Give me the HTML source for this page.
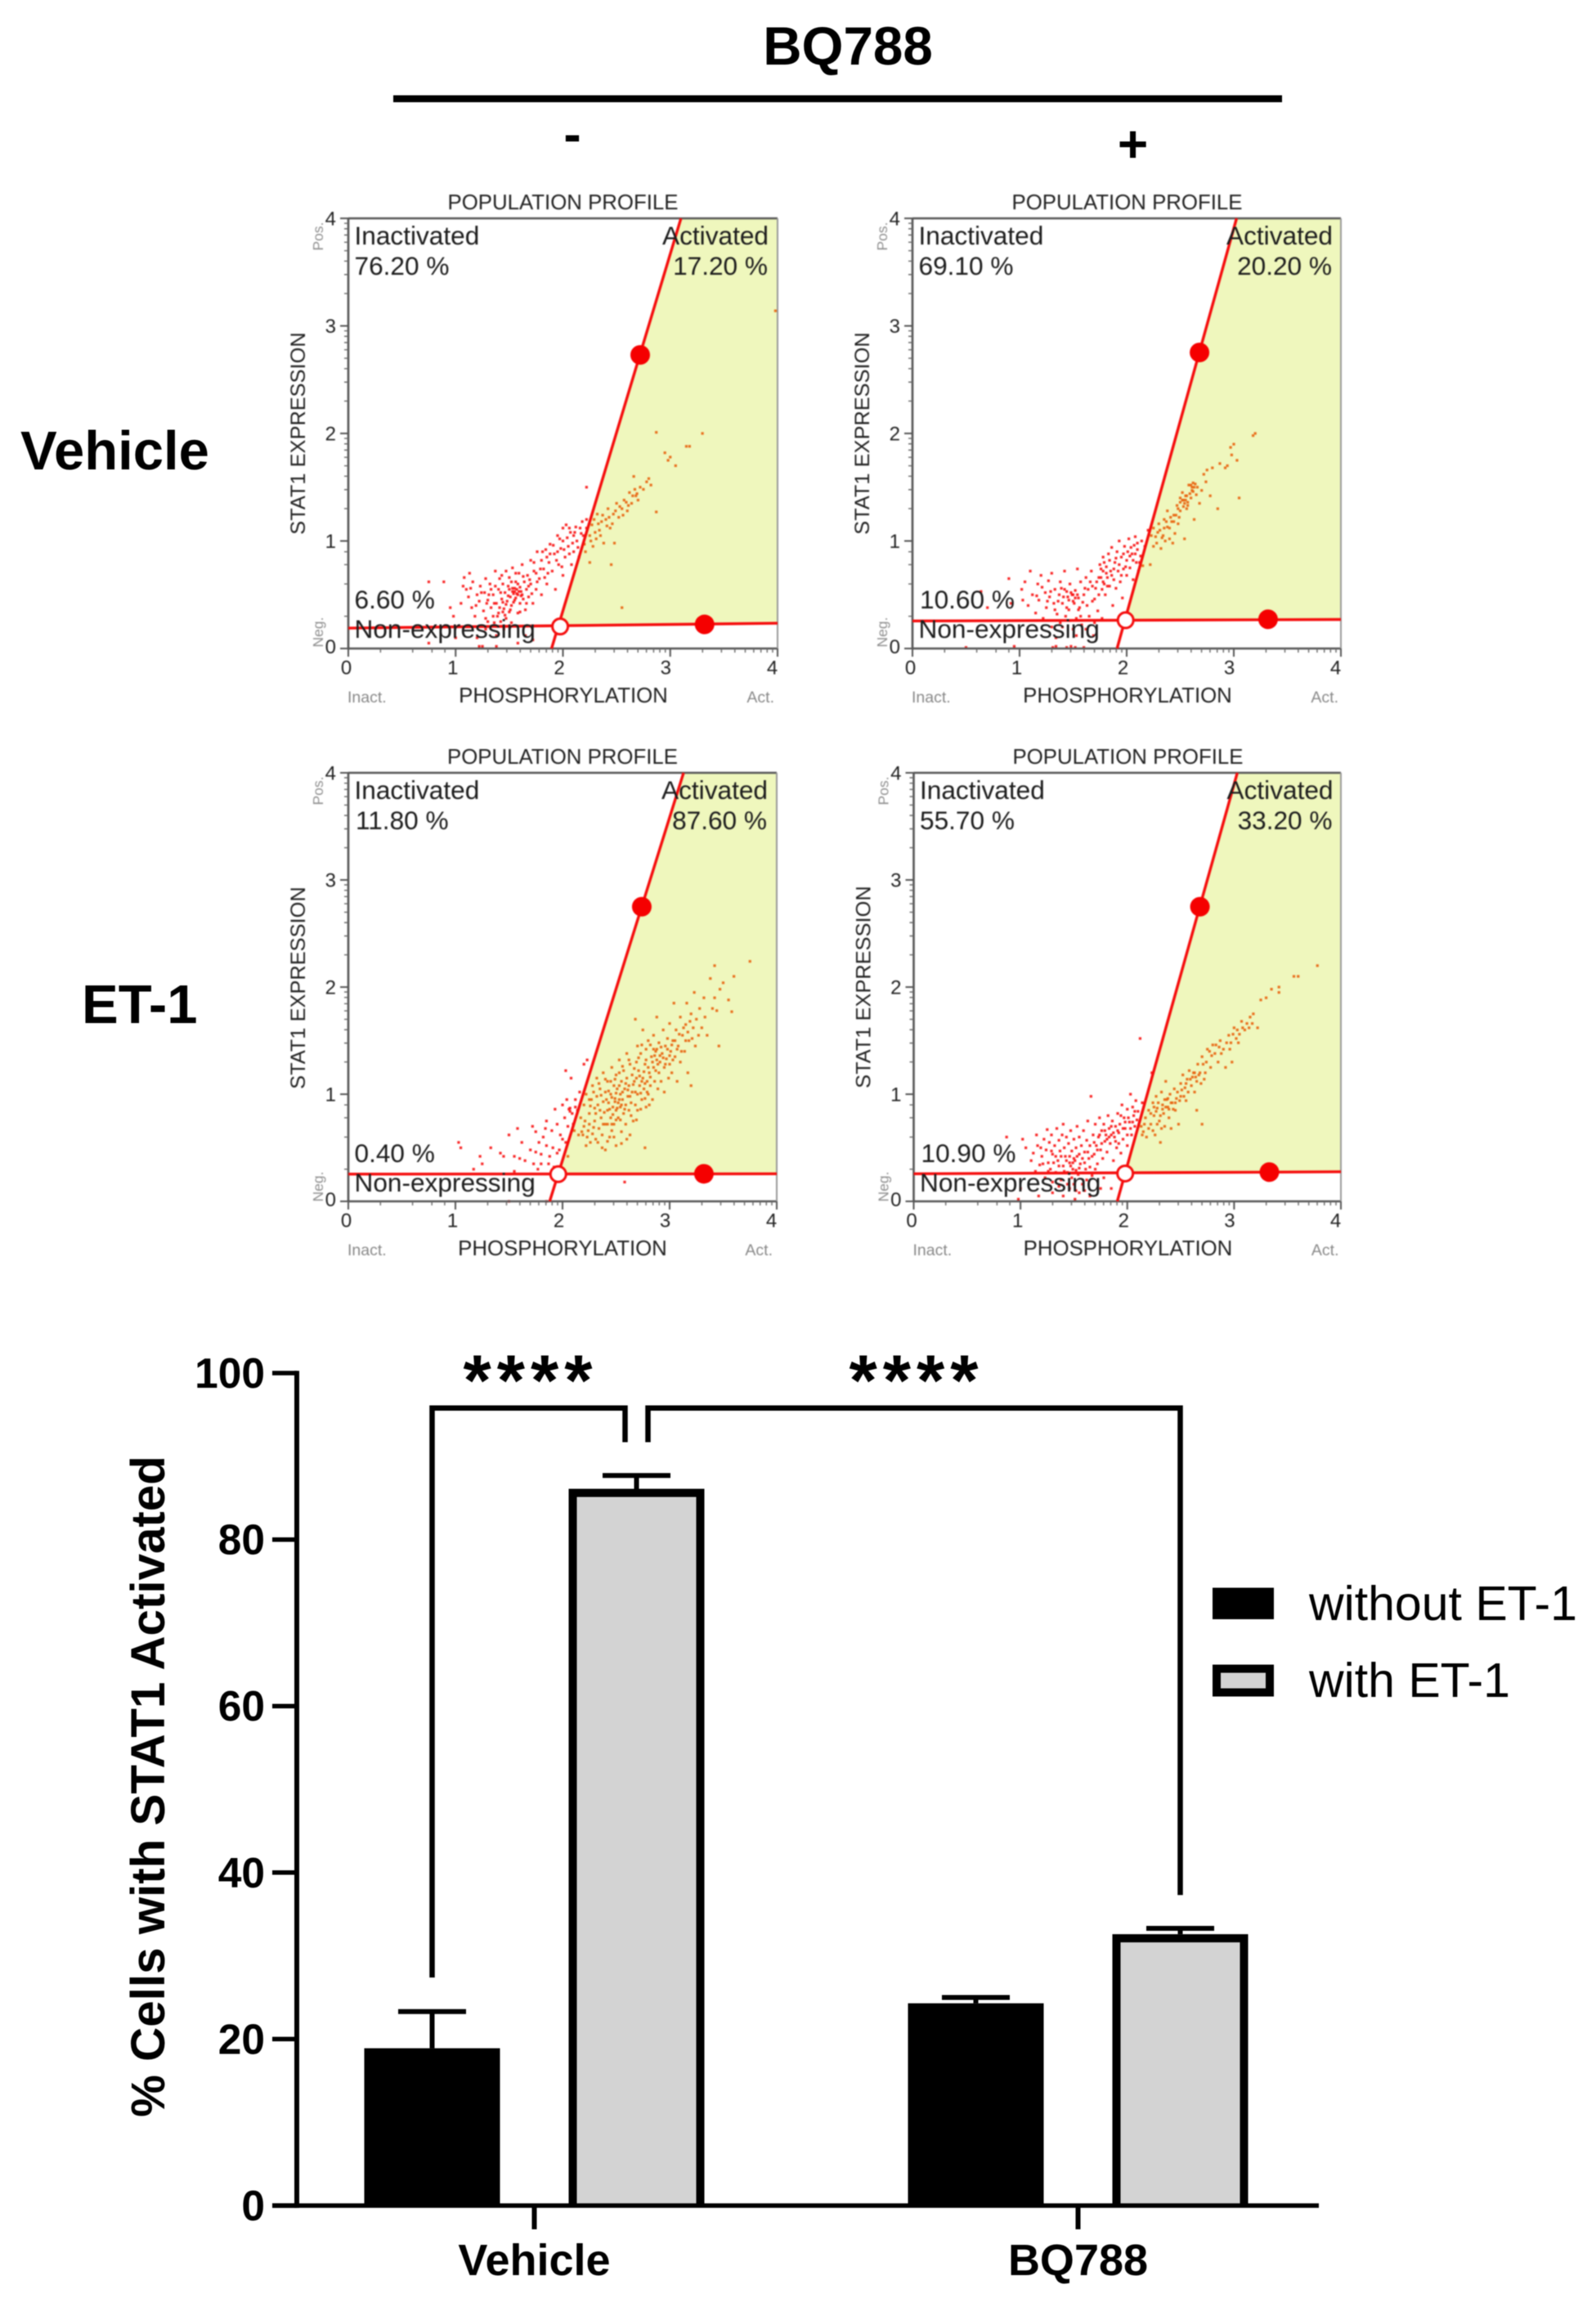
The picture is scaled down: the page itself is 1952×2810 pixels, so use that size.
<!DOCTYPE html>
<html lang="en">
<head>
<meta charset="utf-8">
<title>STAT1 population profiles and activation bar chart</title>
<style>
html,body{margin:0;padding:0;background:#fff;}
body{width:1952px;height:2810px;overflow:hidden;}
svg{display:block;font-family:"Liberation Sans",Arial,sans-serif;}
.soft{filter:blur(0.7px);}
.bar-soft{filter:blur(0.5px);}
.pt{font-size:25.8px;fill:#222;}
.yt{font-size:25.4px;fill:#222;}
.lab{font-size:31.6px;fill:#1c1c1c;}
.gr{font-size:19.5px;fill:#888;}
.gv{font-size:17.5px;fill:#909090;}
.tick{font-size:24px;fill:#222;}
.b{font-weight:bold;fill:#000;}
</style>
</head>
<body>
<svg id="fig" xmlns="http://www.w3.org/2000/svg" width="1952" height="2810" viewBox="0 0 1952 2810">
<rect width="1952" height="2810" fill="#fff"/>

<g class="bar-soft">
<text class="b" x="1037" y="79" font-size="65.5" text-anchor="middle">BQ788</text>
<rect x="481" y="116.5" width="1087" height="8.5" fill="#000"/>
<text class="b" x="700" y="186" font-size="64" text-anchor="middle">-</text>
<text class="b" x="1385.5" y="198" font-size="64" text-anchor="middle">+</text>
<text class="b" x="25" y="574" font-size="67">Vehicle</text>
<text class="b" x="100" y="1251" font-size="67">ET-1</text>
</g>

<g class="soft" transform="translate(426,267)">
<g id="marks0"></g>
<text class="pt" x="262.5" y="-11" text-anchor="middle">POPULATION PROFILE</text>
<text class="pt" x="263" y="592" text-anchor="middle">PHOSPHORYLATION</text>
<text class="yt" transform="translate(-53,263) rotate(-90)" text-anchor="middle">STAT1 EXPRESSION</text>
<text class="gr" x="-1" y="592">Inact.</text>
<text class="gr" x="521" y="592" text-anchor="end">Act.</text>
<text class="gv" transform="translate(-31,22) rotate(-90)" text-anchor="middle">Pos.</text>
<text class="gv" transform="translate(-31,506) rotate(-90)" text-anchor="middle">Neg.</text>
<text class="lab" x="7.5" y="32">Inactivated</text>
<text class="lab" x="7.5" y="69">76.20 %</text>
<text class="lab" x="514" y="32" text-anchor="end">Activated</text>
<text class="lab" x="513" y="69" text-anchor="end">17.20 %</text>
<text class="lab" x="7.5" y="477">6.60 %</text>
<text class="lab" x="7.5" y="513">Non-expressing</text>
</g>

<g class="soft" transform="translate(1116,267)">
<g id="marks1"></g>
<text class="pt" x="262.5" y="-11" text-anchor="middle">POPULATION PROFILE</text>
<text class="pt" x="263" y="592" text-anchor="middle">PHOSPHORYLATION</text>
<text class="yt" transform="translate(-53,263) rotate(-90)" text-anchor="middle">STAT1 EXPRESSION</text>
<text class="gr" x="-1" y="592">Inact.</text>
<text class="gr" x="521" y="592" text-anchor="end">Act.</text>
<text class="gv" transform="translate(-31,22) rotate(-90)" text-anchor="middle">Pos.</text>
<text class="gv" transform="translate(-31,506) rotate(-90)" text-anchor="middle">Neg.</text>
<text class="lab" x="7.5" y="32">Inactivated</text>
<text class="lab" x="7.5" y="69">69.10 %</text>
<text class="lab" x="514" y="32" text-anchor="end">Activated</text>
<text class="lab" x="513" y="69" text-anchor="end">20.20 %</text>
<text class="lab" x="9" y="477">10.60 %</text>
<text class="lab" x="7.5" y="513">Non-expressing</text>
</g>

<g class="soft" transform="translate(426,945)">
<g id="marks2"></g>
<text class="pt" x="262" y="-11" text-anchor="middle">POPULATION PROFILE</text>
<text class="pt" x="262" y="590" text-anchor="middle">PHOSPHORYLATION</text>
<text class="yt" transform="translate(-53,263) rotate(-90)" text-anchor="middle">STAT1 EXPRESSION</text>
<text class="gr" x="-1" y="590">Inact.</text>
<text class="gr" x="519" y="590" text-anchor="end">Act.</text>
<text class="gv" transform="translate(-31,22) rotate(-90)" text-anchor="middle">Pos.</text>
<text class="gv" transform="translate(-31,506) rotate(-90)" text-anchor="middle">Neg.</text>
<text class="lab" x="7.5" y="32">Inactivated</text>
<text class="lab" x="9" y="69">11.80 %</text>
<text class="lab" x="513" y="32" text-anchor="end">Activated</text>
<text class="lab" x="512" y="69" text-anchor="end">87.60 %</text>
<text class="lab" x="7.5" y="476">0.40 %</text>
<text class="lab" x="7.5" y="512">Non-expressing</text>
</g>

<g class="soft" transform="translate(1117.5,945)">
<g id="marks3"></g>
<text class="pt" x="262" y="-11" text-anchor="middle">POPULATION PROFILE</text>
<text class="pt" x="262" y="590" text-anchor="middle">PHOSPHORYLATION</text>
<text class="yt" transform="translate(-53,262) rotate(-90)" text-anchor="middle">STAT1 EXPRESSION</text>
<text class="gr" x="-1" y="590">Inact.</text>
<text class="gr" x="520" y="590" text-anchor="end">Act.</text>
<text class="gv" transform="translate(-31,22) rotate(-90)" text-anchor="middle">Pos.</text>
<text class="gv" transform="translate(-31,506) rotate(-90)" text-anchor="middle">Neg.</text>
<text class="lab" x="7.5" y="32">Inactivated</text>
<text class="lab" x="7.5" y="69">55.70 %</text>
<text class="lab" x="513" y="32" text-anchor="end">Activated</text>
<text class="lab" x="512" y="69" text-anchor="end">33.20 %</text>
<text class="lab" x="9" y="476">10.90 %</text>
<text class="lab" x="7.5" y="512">Non-expressing</text>
</g>

<g class="bar-soft">
<g id="barMarks"></g>
<text class="b" transform="translate(201,2184.5) rotate(-90)" font-size="58.3" text-anchor="middle">% Cells with STAT1 Activated</text>
<text class="b" x="649" y="1718" font-size="88" text-anchor="middle" letter-spacing="7">****</text>
<text class="b" x="1121" y="1718" font-size="88" text-anchor="middle" letter-spacing="7">****</text>
<rect x="1483" y="1941.5" width="75" height="38.5" fill="#000"/>
<rect x="1488" y="2040.5" width="65" height="29" fill="#d3d3d3" stroke="#000" stroke-width="10"/>
<text x="1601" y="1981" font-size="59" fill="#000">without ET-1</text>
<text x="1601" y="2075" font-size="59" fill="#000">with ET-1</text>
</g>
</svg>

<script>
// ---------- Population profile data (data units on the 0-4 axes) ----------
const axisTicks = [0, 1, 2, 3, 4];
const gateBottomX = [1.894, 1.91, 1.88, 1.906];
const gateTopX = [3.10, 3.026, 3.13, 3.03];
const floorLeftY = [0.19, 0.256, 0.254, 0.257];
const floorRightY = [0.235, 0.27, 0.257, 0.276];
const upperHandleX = [2.72, 2.68, 2.74, 2.68];
const upperHandleY = [2.73, 2.753, 2.75, 2.75];
const lowerHandleX = [3.32, 3.32, 3.32, 3.33];
const lowerHandleY = [0.224, 0.272, 0.257, 0.273];
const openHandleX = [1.974, 1.99, 1.96, 1.98];
const openHandleY = [0.205, 0.263, 0.254, 0.26];

const cellsVehicleMinus = [[.75,.62],[.75,.05],[.89,.62],[.95,.38],[.98,.3],[1.0,.1],[1.05,.42],[1.07,.58],[1.08,.66],[1.1,.55],[1.12,.48],[1.13,.7],[1.15,.38],[1.16,.62],[1.18,.3],[1.2,.5],[1.2,.1],[1.22,.44],[1.23,.58],[1.25,.02],[1.26,.35],[1.27,.52],[1.28,.65],[1.3,.25],[1.3,.45],[1.32,.6],[1.33,.38],[1.35,.5],[1.35,.3],[1.37,.72],[1.38,.42],[1.38,.02],[1.4,.55],[1.4,.33],[1.41,.65],[1.42,.25],[1.43,.46],[1.44,.6],[1.45,.37],[1.46,.52],[1.47,.72],[1.47,.28],[1.48,.44],[1.49,.58],[1.5,.34],[1.5,.66],[1.51,.48],[1.52,.4],[1.53,.56],[1.53,.75],[1.54,.51],[1.55,.53],[1.56,.62],[1.56,.47],[1.57,.55],[1.58,.33],[1.58,.5],[1.59,.7],[1.6,.57],[1.6,.42],[1.61,.53],[1.62,.78],[1.63,.46],[1.64,.62],[1.65,.36],[1.66,.55],[1.67,.68],[1.68,.48],[1.7,.82],[1.7,.6],[1.72,.42],[1.73,.72],[1.75,.55],[1.76,.9],[1.78,.65],[1.8,.82],[1.8,.5],[1.82,.74],[1.84,.92],[1.85,.6],[1.87,.8],[1.88,.97],[1.9,.72],[1.92,.88],[1.93,.55],[1.95,1.05],[1.96,.78],[1.98,.93],[2.0,.68],[2.0,1.0],[2.02,.85],[2.03,1.15],[2.05,.95],[2.07,1.08],[2.08,.78],[2.1,.9],[2.12,1.13],[2.13,1.0],[2.15,.85],[2.17,1.07],[2.18,1.18],[2.2,.97],[2.22,1.12],[2.22,1.5],[2.25,1.05],[2.22,1.2],[2.25,.8],[2.27,1.15],[2.28,.95],[2.3,1.08],[2.32,1.25],[2.34,1.1],[2.36,1.18],[2.38,.98],[2.4,1.2],[2.42,1.3],[2.44,1.12],[2.45,.78],[2.47,1.25],[2.48,.98],[2.5,1.35],[2.52,1.22],[2.55,1.3],[2.57,1.38],[2.6,1.28],[2.62,1.45],[2.64,1.35],[2.66,1.6],[2.68,1.42],[2.7,1.38],[2.72,1.5],[2.75,1.48],[2.78,1.55],[2.8,1.58],[2.82,1.52],[2.87,1.27],[2.87,2.01],[2.95,1.82],[2.98,1.75],[3.0,1.78],[3.05,1.7],[3.15,1.88],[3.18,1.88],[3.3,2.0],[2.55,.38],[3.98,3.14],[2.0,1.12],[1.95,.9],[1.85,.85],[2.1,1.05],[1.75,.7],[1.68,.58],[1.52,.62],[1.44,.34],[1.36,.42],[1.28,.28],[1.5,.55],[1.58,.6],[1.62,.5],[1.55,.45],[1.42,.52],[1.33,.55]];
const cellsVehicleMinusDense = [[1.57,.51],[1.53,.53],[1.59,.53],[1.55,.56],[1.61,.49],[1.49,.49],[1.54,.43],[1.47,.41],[1.44,.43],[1.51,.36],[1.39,.3],[1.36,.24],[1.41,.38],[1.46,.31],[1.29,.42],[1.24,.52],[1.19,.4],[1.14,.56],[1.31,.5],[1.37,.58],[1.43,.68],[1.56,.7],[1.63,.67],[1.69,.64],[1.71,.51],[1.76,.62],[1.79,.74],[1.83,.66],[1.73,.8],[1.81,.9],[1.88,.88],[1.91,.96],[1.94,.82],[1.97,1.02],[2.01,.92],[2.04,1.03],[2.06,.88],[2.09,.98],[2.11,1.08],[2.14,.94],[2.16,1.12],[2.19,1.05],[2.21,.9],[2.06,1.12],[1.99,.76],[1.86,.7],[1.66,.42],[1.6,.34],[1.52,.24],[1.45,.18],[1.38,.12],[1.58,.05],[1.65,.12],[1.72,.08],[1.28,.18],[1.22,.02],[2.29,1.2],[2.31,1.02],[2.33,1.16],[2.37,1.24],[2.41,1.14],[2.43,1.22],[2.46,1.16],[2.49,1.28],[2.53,1.32],[2.56,1.24],[2.59,1.36],[2.61,1.33],[2.65,1.42],[2.67,1.48],[2.69,1.44],[2.35,1.05],[2.26,1.0]];

const cellsVehiclePlus = [[.5,.01],[.64,.53],[.7,.38],[.9,.65],[.92,.42],[.95,.02],[1.02,.55],[1.03,.45],[1.05,.62],[1.08,.4],[1.1,.72],[1.12,.5],[1.15,.33],[1.17,.6],[1.18,.45],[1.2,.68],[1.22,.28],[1.24,.52],[1.25,.38],[1.27,.63],[1.28,.48],[1.3,.7],[1.3,.2],[1.32,.42],[1.33,.55],[1.34,.02],[1.35,.32],[1.37,.5],[1.38,.62],[1.38,.24],[1.4,.42],[1.42,.55],[1.42,.72],[1.43,.3],[1.45,.48],[1.46,.36],[1.47,.6],[1.48,.02],[1.49,.5],[1.5,.44],[1.5,.18],[1.52,.54],[1.53,.28],[1.54,.74],[1.55,.47],[1.56,.38],[1.57,.62],[1.58,.22],[1.6,.5],[1.62,.66],[1.63,.4],[1.64,.55],[1.65,.3],[1.67,.72],[1.68,.58],[1.69,.12],[1.7,.46],[1.72,.62],[1.73,.35],[1.75,.78],[1.76,.66],[1.77,.55],[1.78,.72],[1.78,.85],[1.79,.6],[1.8,.5],[1.81,.76],[1.82,.66],[1.83,.88],[1.84,.58],[1.85,.72],[1.86,.94],[1.87,.4],[1.88,.64],[1.89,.8],[1.9,.56],[1.91,.9],[1.92,.72],[1.93,1.0],[1.94,.62],[1.95,.85],[1.96,.47],[1.97,.74],[1.98,.95],[2.0,.82],[2.0,.68],[2.01,.9],[2.02,1.02],[2.03,.75],[2.05,.88],[2.06,.64],[2.07,.96],[2.08,1.04],[2.09,.8],[2.1,.92],[2.11,.72],[2.13,.86],[2.14,1.0],[2.15,.77],[2.17,.95],[2.2,1.1],[2.22,.78],[2.23,1.05],[2.25,.95],[2.25,1.12],[2.28,.98],[2.3,1.16],[2.32,.93],[2.34,1.05],[2.35,1.2],[2.36,1.0],[2.38,1.13],[2.38,1.28],[2.4,1.02],[2.42,1.18],[2.44,1.24],[2.45,1.07],[2.47,1.33],[2.48,1.16],[2.5,1.28],[2.5,1.4],[2.52,1.45],[2.53,1.38],[2.54,1.02],[2.55,1.42],[2.56,1.3],[2.57,1.36],[2.58,1.52],[2.6,1.4],[2.61,1.5],[2.62,1.46],[2.63,1.2],[2.64,1.53],[2.65,1.43],[2.68,1.35],[2.7,1.47],[2.72,1.62],[2.74,1.55],[2.75,1.66],[2.78,1.42],[2.8,1.68],[2.85,1.3],[2.87,1.72],[2.92,1.68],[2.94,1.7],[2.97,1.87],[2.98,1.8],[3.0,1.9],[3.03,1.75],[3.05,1.4],[3.18,1.98],[3.2,2.0]];
const cellsVehiclePlusDense = [[1.48,.52],[1.5,.5],[1.52,.47],[1.46,.45],[1.54,.5],[1.44,.53],[1.51,.42],[1.41,.48],[1.36,.44],[1.33,.36],[1.29,.53],[1.26,.44],[1.21,.57],[1.16,.49],[1.39,.56],[1.44,.38],[1.55,.36],[1.59,.43],[1.61,.56],[1.66,.62],[1.71,.56],[1.74,.66],[1.76,.74],[1.78,.62],[1.79,.8],[1.81,.7],[1.82,.58],[1.84,.82],[1.86,.68],[1.88,.74],[1.9,.84],[1.93,.78],[1.95,.68],[1.97,.88],[1.99,.76],[2.03,.86],[2.04,.94],[2.06,.82],[2.08,.88],[2.1,.98],[2.12,.8],[1.74,.5],[1.68,.44],[1.57,.3],[1.47,.26],[1.4,.2],[1.34,.1],[1.53,.12],[1.62,.18],[1.7,.24],[1.77,.28],[1.31,.01],[1.44,.01],[1.52,.01],[1.6,.01],[2.5,1.36],[2.52,1.38],[2.54,1.35],[2.55,1.38],[2.56,1.42],[2.53,1.32],[2.57,1.33],[2.59,1.44],[2.61,1.47],[2.63,1.5],[2.62,1.54],[2.6,1.52],[2.66,1.5],[2.48,1.3],[2.46,1.24],[2.44,1.18],[2.4,1.12],[2.37,1.18],[2.35,1.12],[2.33,1.03],[2.31,1.1],[2.29,1.08],[2.27,1.04],[2.41,1.22],[2.49,1.22],[2.43,.98]];

const cellsEt1Minus = [[1.03,.55],[1.05,.5],[1.17,.3],[1.23,.42],[1.25,.35],[1.33,.5],[1.42,.45],[1.45,.42],[1.5,.62],[1.55,.28],[1.55,.42],[1.58,.68],[1.6,.4],[1.62,.55],[1.65,.38],[1.7,.48],[1.73,.35],[1.75,.46],[1.77,.3],[1.78,.55],[1.8,.44],[1.72,.7],[1.75,.65],[1.82,.6],[1.85,.52],[1.85,.75],[1.88,.42],[1.9,.66],[1.92,.32],[1.93,.86],[1.95,.72],[1.97,.48],[2.0,.58],[2.0,.9],[2.02,.78],[2.03,1.22],[2.05,.7],[2.07,.87],[2.08,1.15],[2.1,.72],[2.12,.95],[2.14,.85],[2.16,1.02],[2.2,1.28],[2.23,1.32],[2.58,.18],[1.5,.0],[1.85,.0],
[2.15,.62],[2.17,.78],[2.18,.65],[2.2,.9],[2.2,.7],[2.22,1.0],[2.23,.6],[2.25,.82],[2.25,.72],[2.27,.95],[2.28,.63],[2.28,1.08],[2.3,.87],[2.3,.75],[2.32,1.15],[2.32,.98],[2.33,.55],[2.34,.68],[2.35,.85],[2.35,1.05],[2.36,.78],[2.37,.62],[2.38,.93],[2.38,1.2],[2.4,.72],[2.4,1.02],[2.4,.48],[2.42,.85],[2.42,1.12],[2.43,.92],[2.44,.6],[2.45,1.0],[2.45,.78],[2.46,1.25],[2.47,.88],[2.48,1.08],[2.48,.72],[2.49,.96],[2.5,.85],[2.5,1.18],[2.5,.52],[2.51,1.05],[2.52,.78],[2.52,.92],[2.53,1.32],[2.54,1.0],[2.54,.88],[2.55,1.12],[2.55,.65],[2.56,.95],[2.57,.82],[2.57,1.22],[2.58,1.05],[2.59,.9],[2.6,1.38],[2.6,1.15],[2.6,.58],[2.61,.98],[2.62,.85],[2.62,1.08],[2.63,1.28],[2.64,.92],[2.65,1.18],[2.65,1.02],[2.66,.75],[2.67,1.12],[2.68,.9],[2.68,1.7],[2.69,1.3],[2.7,1.0],[2.7,1.45],[2.7,.85],[2.71,1.22],[2.72,1.08],[2.73,1.38],[2.74,.95],[2.75,1.15],[2.75,1.6],[2.76,1.05],[2.77,1.28],[2.78,1.42],[2.78,.88],[2.79,1.12],[2.8,1.0],[2.8,1.5],[2.81,1.2],[2.82,1.08],[2.83,1.35],[2.84,.95],[2.85,1.25],[2.85,1.55],[2.86,1.12],[2.87,1.4],[2.88,1.32],[2.88,1.72],[2.89,1.05],[2.9,1.2],[2.9,1.48],[2.91,1.3],[2.92,1.12],[2.93,1.38],[2.94,1.6],[2.95,1.25],[2.95,1.02],[2.96,1.45],[2.97,1.33],[2.98,1.52],[2.99,1.15],[3.0,1.28],[3.0,1.66],[3.01,1.4],[3.02,1.2],[3.03,1.5],[3.04,1.85],[3.05,1.35],[3.06,1.6],[3.07,1.12],[3.08,1.45],[3.1,1.72],[3.1,1.3],[3.12,1.55],[3.14,1.4],[3.15,1.65],[3.16,1.85],[3.17,1.2],[3.18,1.5],[3.2,1.75],[3.2,1.08],[3.22,1.62],[3.23,1.95],[3.24,1.45],[3.25,1.7],[3.27,1.55],[3.28,1.8],[3.3,1.62],[3.32,1.9],[3.33,1.72],[3.35,1.55],[3.38,2.08],[3.4,1.8],[3.42,1.9],[3.44,1.78],[3.46,1.45],[3.47,1.98],[3.5,2.04],[3.55,1.88],[3.58,1.77],[3.6,2.1],[3.75,2.24],[3.42,2.2]];
const cellsEt1MinusDense = [[2.51,.87],[2.49,.93],[2.53,.95],[2.47,.81],[2.55,.9],[2.44,.86],[2.58,.86],[2.43,1.03],[2.41,.95],[2.39,.83],[2.36,.99],[2.33,.9],[2.31,.82],[2.29,.69],[2.26,.89],[2.24,.66],[2.21,.75],[2.19,.62],[2.46,.97],[2.5,1.01],[2.53,1.08],[2.56,1.02],[2.59,1.1],[2.61,1.04],[2.63,.98],[2.66,1.09],[2.68,1.02],[2.69,1.15],[2.72,1.17],[2.73,1.01],[2.74,1.12],[2.76,1.21],[2.77,1.1],[2.79,1.02],[2.8,1.25],[2.82,1.16],[2.84,1.3],[2.86,1.36],[2.87,1.22],[2.88,1.42],[2.89,1.28],[2.91,1.36],[2.92,1.44],[2.94,1.34],[2.96,1.28],[2.98,1.42],[3.0,1.36],[3.02,1.46],[3.03,1.32],[3.05,1.5],[3.07,1.42],[3.09,1.56],[3.11,1.4],[3.13,1.62],[3.15,1.5],[3.17,1.58],[3.19,1.68],[3.21,1.52],[2.56,1.26],[2.62,1.32],[2.67,1.24],[2.71,1.34],[2.74,1.46],[2.78,1.32],[2.82,1.46],[2.85,1.42],[2.59,.72],[2.64,.8],[2.69,.76],[2.73,.86],[2.77,.96],[2.81,.9],[2.46,.66],[2.42,.56],[2.37,.5],[2.31,.58],[2.26,.55],[2.22,.52],[2.63,.62],[2.55,.54],[2.48,.6],[2.77,.5],[2.25,.95],[2.29,1.02],[2.34,1.1],[2.4,1.14],[2.45,1.12],[2.49,1.14],[2.53,1.2],[2.5,.76],[2.54,.76],[2.46,.72],[2.42,.72],[2.38,.72],[2.12,.88],[2.09,.82],[2.07,.84],[2.06,.86],[2.04,.95],[2.11,.66],[1.98,.62],[1.95,.45],[1.87,.35],[1.84,.68],[2.03,.55],[2.05,.42],[1.91,.5],[1.8,.35]];

const cellsEt1Plus = [[.87,.6],[.98,.02],[1.0,.12],[1.02,.58],[1.05,.5],[1.1,.38],[1.12,.45],[1.14,.28],[1.15,.62],[1.16,.52],[1.17,.05],[1.18,.34],[1.2,.42],[1.22,.58],[1.23,.22],[1.24,.48],[1.25,.67],[1.26,.36],[1.27,.55],[1.28,.3],[1.29,.62],[1.3,.44],[1.3,.08],[1.32,.52],[1.33,.27],[1.34,.68],[1.35,.38],[1.36,.57],[1.37,.47],[1.38,.2],[1.39,.62],[1.4,.33],[1.4,.72],[1.41,.5],[1.42,.42],[1.43,.6],[1.44,.27],[1.45,.54],[1.46,.36],[1.46,.12],[1.47,.66],[1.48,.47],[1.49,.3],[1.5,.58],[1.5,.4],[1.51,.02],[1.52,.5],[1.53,.7],[1.54,.25],[1.55,.44],[1.55,.6],[1.56,.35],[1.57,.52],[1.58,.16],[1.59,.66],[1.6,.46],[1.61,.3],[1.62,.57],[1.63,.75],[1.64,.4],[1.65,.52],[1.66,.98],[1.67,.24],[1.68,.62],[1.69,.44],[1.7,.72],[1.71,.52],[1.72,.35],[1.73,.6],[1.74,.78],[1.75,.48],[1.76,.66],[1.77,.4],[1.78,.72],[1.79,.56],[1.8,.62],[1.81,.46],[1.82,.8],[1.83,.68],[1.84,.54],[1.85,.62],[1.86,.75],[1.87,.38],[1.88,.6],[1.89,.7],[1.9,.5],[1.91,.82],[1.92,.64],[1.93,.72],[1.94,.45],[1.95,.9],[1.96,.58],[1.97,.78],[1.98,.68],[2.0,.86],[2.0,.52],[2.02,.74],[2.03,1.0],[2.04,.62],[2.05,.88],[2.06,.8],[2.07,.7],[2.08,.94],[2.1,.84],[2.12,1.52],[2.14,.92],[1.78,.22],[1.6,.1],[1.55,.08],[1.85,.12],
[2.13,.7],[2.15,.65],[2.17,.78],[2.18,.6],[2.2,.85],[2.22,.72],[2.23,1.2],[2.24,.92],[2.25,.8],[2.26,.62],[2.27,.98],[2.28,.87],[2.3,.75],[2.31,.55],[2.32,1.02],[2.33,.9],[2.34,.82],[2.35,.7],[2.36,1.12],[2.37,.95],[2.38,.88],[2.39,.78],[2.4,1.0],[2.41,.68],[2.42,.92],[2.44,1.05],[2.45,.85],[2.46,.96],[2.48,.72],[2.5,1.1],[2.5,.98],[2.52,1.18],[2.54,1.06],[2.55,.94],[2.56,1.14],[2.58,1.22],[2.6,1.08],[2.62,1.2],[2.63,1.02],[2.64,1.16],[2.65,.85],[2.66,1.28],[2.68,1.2],[2.7,1.35],[2.7,.72],[2.72,1.14],[2.74,1.3],[2.75,1.42],[2.78,1.25],[2.8,1.46],[2.82,1.38],[2.85,1.3],[2.87,1.5],[2.9,1.42],[2.92,1.25],[2.95,1.55],[2.97,1.48],[2.98,1.3],[3.0,1.62],[3.02,1.52],[3.05,1.56],[3.07,1.68],[3.1,1.6],[3.15,1.72],[3.18,1.75],[3.22,1.62],[3.25,1.88],[3.3,1.9],[3.35,1.98],[3.42,1.95],[3.42,2.0],[3.56,2.1],[3.6,2.1],[3.78,2.2]];
const cellsEt1PlusDense = [[1.51,.38],[1.53,.42],[1.49,.36],[1.47,.33],[1.55,.31],[1.52,.29],[1.48,.22],[1.5,.16],[1.46,.42],[1.43,.38],[1.41,.28],[1.38,.42],[1.36,.33],[1.33,.42],[1.31,.36],[1.29,.47],[1.26,.28],[1.21,.35],[1.19,.5],[1.58,.4],[1.6,.36],[1.63,.46],[1.65,.32],[1.67,.42],[1.69,.55],[1.72,.48],[1.74,.62],[1.76,.54],[1.79,.66],[1.81,.58],[1.83,.6],[1.85,.7],[1.87,.64],[1.89,.56],[1.91,.66],[1.92,.54],[1.94,.8],[1.96,.68],[1.98,.74],[2.0,.62],[2.01,.78],[2.03,.68],[2.05,.74],[2.07,.84],[2.09,.76],[1.44,.16],[1.52,.1],[1.62,.2],[1.7,.3],[1.36,.14],[1.65,.05],[1.75,.12],[1.4,.05],[1.3,.18],[2.22,.82],[2.25,.88],[2.27,.84],[2.29,.92],[2.31,.8],[2.33,.86],[2.35,.95],[2.36,.88],[2.38,.96],[2.39,.86],[2.41,.92],[2.43,.86],[2.45,.92],[2.47,1.02],[2.49,.94],[2.51,1.04],[2.53,.98],[2.55,1.1],[2.57,1.02],[2.59,1.14],[2.61,1.16],[2.63,1.2],[2.65,1.12],[2.67,1.18],[2.69,1.1],[2.71,1.28],[2.73,1.2],[2.77,1.4],[2.79,1.36],[2.83,1.46],[2.86,1.44],[2.88,1.38],[2.93,1.48],[2.96,1.42],[2.99,1.56],[3.03,1.6],[3.04,1.48],[3.08,1.62],[3.12,1.66],[3.14,1.62],[3.17,1.66],[2.14,.62],[2.16,.72],[2.2,.68],[2.24,.66],[2.28,.72],[2.32,.68]];

const panelCells = [
  cellsVehicleMinus.concat(cellsVehicleMinusDense),
  cellsVehiclePlus.concat(cellsVehiclePlusDense),
  cellsEt1Minus.concat(cellsEt1MinusDense),
  cellsEt1Plus.concat(cellsEt1PlusDense)
];
const panelWidths = [525, 524, 524, 522.5];
const panelHeights = [526, 526, 524, 524];

// ---------- Bar chart data ----------
const barCategories = ['Vehicle', 'BQ788'];
const barTicks = [0, 20, 40, 60, 80, 100];
const withoutEt1 = [18.9, 24.3];
const withEt1 = [86.1, 32.6];
const withoutEt1ErrorTop = [23.3, 25.0];
const withEt1ErrorTop = [87.7, 33.3];
const bracketTop = 95.8;
const bracketInnerEnd = 91.7;
const bracketVehicleEnd = 27.4;
const bracketBq788End = 37.3;

const NS = 'http://www.w3.org/2000/svg';
function mk(parent, tag, attrs) {
  const el = document.createElementNS(NS, tag);
  for (const k in attrs) el.setAttribute(k, attrs[k]);
  parent.appendChild(el);
  return el;
}

// ---------- Draw population profile panels ----------
panelCells.forEach(function (cells, p) {
  const g = document.getElementById('marks' + p);
  const W = panelWidths[p], H = panelHeights[p];
  const sx = function (v) { return v * W / 4; };
  const sy = function (v) { return H - v * H / 4; };
  const gateX = function (y) { return gateBottomX[p] + (gateTopX[p] - gateBottomX[p]) * y / 4; };
  const floorY = function (x) { return floorLeftY[p] + (floorRightY[p] - floorLeftY[p]) * x / 4; };
  let vy = floorLeftY[p];
  for (let i = 0; i < 6; i++) vy = floorY(gateX(vy));
  const vx = gateX(vy);

  const region = mk(g, 'polygon', {
    points: [[sx(vx), sy(vy)], [sx(gateTopX[p]), sy(4)], [sx(4), sy(4)], [sx(4), sy(floorRightY[p])]].map(function (q) { return q.join(','); }).join(' '),
    fill: '#eff7bd'
  });
  
  

  cells.forEach(function (c) {
    const inside = c[0] > gateX(c[1]) && c[1] > floorY(c[0]);
    const dot = mk(g, 'rect', {
      x: sx(c[0]) - 1.6, y: sy(c[1]) - 1.6, width: 3.2, height: 3.2,
      fill: inside ? '#e8600c' : '#f81010', opacity: 0.9
    });
    
    
  });

  const frame = mk(g, 'path', {
    d: 'M0 0H' + W + 'M0 ' + H + 'H' + W + 'M0 0V' + H,
    stroke: '#555', 'stroke-width': 2.6, fill: 'none'
  });
  
  
  const frameRight = mk(g, 'line', { x1: W, x2: W, y1: 0, y2: H, stroke: '#999', 'stroke-width': 2 });
  
  

  axisTicks.forEach(function (t) {
    const xt = mk(g, 'line', { x1: sx(t), x2: sx(t), y1: H, y2: H + 10, stroke: '#555', 'stroke-width': 2 });
    
    
    const yt = mk(g, 'line', { x1: -10, x2: 0, y1: sy(t), y2: sy(t), stroke: '#555', 'stroke-width': 2 });
    
    
    const xl = mk(g, 'text', { x: sx(t) - 2.5 - t, y: H + 31.5, 'text-anchor': 'middle', class: 'tick' });
    xl.textContent = t;
    
    
    const yl = mk(g, 'text', { x: -15, y: sy(t) + (t === 0 ? 6 : 8.5), 'text-anchor': 'end', class: 'tick' });
    yl.textContent = t;
    
    
  });

  let minor = '';
  [0, 1, 2, 3].forEach(function (d) {
    const subs = d === 0 ? [0.3, 0.6, 0.78, 0.9] : [2, 3, 4, 5, 6, 7, 8, 9].map(function (m) { return Math.log10(m); });
    subs.forEach(function (s) {
      minor += 'M' + sx(d + s) + ' ' + H + 'v5M' + (-5) + ' ' + sy(d + s) + 'h5';
    });
  });
  const minorTicks = mk(g, 'path', { d: minor, stroke: '#666', 'stroke-width': 1.4, fill: 'none' });
  
  

  const gateLine = mk(g, 'line', { x1: sx(gateX(0)), y1: sy(0), x2: sx(gateTopX[p]), y2: sy(4), stroke: '#f50d0d', 'stroke-width': 3.4 });
  
  
  const floorLine = mk(g, 'line', { x1: 0, y1: sy(floorLeftY[p]), x2: sx(4), y2: sy(floorRightY[p]), stroke: '#f50d0d', 'stroke-width': 3.4 });
  
  

  const up = mk(g, 'circle', { cx: sx(upperHandleX[p]), cy: sy(upperHandleY[p]), r: 12, fill: '#f50000' });
  
  
  const low = mk(g, 'circle', { cx: sx(lowerHandleX[p]), cy: sy(lowerHandleY[p]), r: 12, fill: '#f50000' });
  
  
  const open = mk(g, 'circle', { cx: sx(openHandleX[p]), cy: sy(openHandleY[p]), r: 9.5, fill: '#fff', stroke: '#f50d0d', 'stroke-width': 3 });
  
  
});

// ---------- Draw bar chart ----------
(function () {
  const g = document.getElementById('barMarks');
  const yZero = 2697, yPerUnit = 10.18;
  const y = function (v) { return yZero - v * yPerUnit; };
  const groupX = function (i) { return 653.5 + i * 665; };
  const barOffset = 125, barWidth = 166, capWidth = 83;

  function errorBar(cx, top, value) {
    const stem = mk(g, 'line', { x1: cx, x2: cx, y1: y(top), y2: y(value), stroke: '#000', 'stroke-width': 6 });
    
    
    const cap = mk(g, 'line', { x1: cx - capWidth / 2, x2: cx + capWidth / 2, y1: y(top), y2: y(top), stroke: '#000', 'stroke-width': 6 });
    
    
  }

  barCategories.forEach(function (name, i) {
    const c1 = groupX(i) - barOffset, c2 = groupX(i) + barOffset;
    errorBar(c1, withoutEt1ErrorTop[i], withoutEt1[i]);
    errorBar(c2, withEt1ErrorTop[i], withEt1[i]);
    const b1 = mk(g, 'rect', { x: c1 - barWidth / 2, y: y(withoutEt1[i]), width: barWidth, height: yZero - y(withoutEt1[i]), fill: '#000' });
    
    
    const b2 = mk(g, 'path', {
      d: 'M' + (c2 - barWidth / 2 + 5) + ' ' + yZero + 'V' + (y(withEt1[i]) + 5) + 'H' + (c2 + barWidth / 2 - 5) + 'V' + yZero,
      fill: '#d3d3d3', stroke: '#000', 'stroke-width': 10
    });
    
    
    const tick = mk(g, 'line', { x1: groupX(i), x2: groupX(i), y1: yZero, y2: 2726, stroke: '#000', 'stroke-width': 6 });
    
    
    const label = mk(g, 'text', { x: groupX(i), y: 2782, 'text-anchor': 'middle', 'font-size': 54, 'font-weight': 'bold', fill: '#000' });
    label.textContent = name;
    
    
  });

  barTicks.forEach(function (t) {
    const tick = mk(g, 'line', { x1: 333, x2: 363, y1: y(t), y2: y(t), stroke: '#000', 'stroke-width': 5.5 });
    
    
    const label = mk(g, 'text', { x: 324, y: y(t) + 18, 'text-anchor': 'end', 'font-size': 51.5, 'font-weight': 'bold', fill: '#000' });
    label.textContent = t;
    
    
  });

  const yAxis = mk(g, 'line', { x1: 363, x2: 363, y1: y(100) - 2.7, y2: yZero + 2.7, stroke: '#000', 'stroke-width': 6 });
  
  
  const xAxis = mk(g, 'line', { x1: 333, x2: 1613, y1: yZero, y2: yZero, stroke: '#000', 'stroke-width': 5.5 });
  
  

  const left = groupX(0) - barOffset, mid = groupX(0) + barOffset, right = groupX(1) + barOffset;
  const br1 = mk(g, 'path', { d: 'M' + left + ' ' + y(bracketVehicleEnd) + 'V' + y(bracketTop) + 'H' + (mid - 14) + 'V' + y(bracketInnerEnd), fill: 'none', stroke: '#000', 'stroke-width': 6.5 });
  
  
  const br2 = mk(g, 'path', { d: 'M' + (mid + 14) + ' ' + y(bracketInnerEnd) + 'V' + y(bracketTop) + 'H' + right + 'V' + y(bracketBq788End), fill: 'none', stroke: '#000', 'stroke-width': 6.5 });
  
  
})();
</script>
</body>
</html>
